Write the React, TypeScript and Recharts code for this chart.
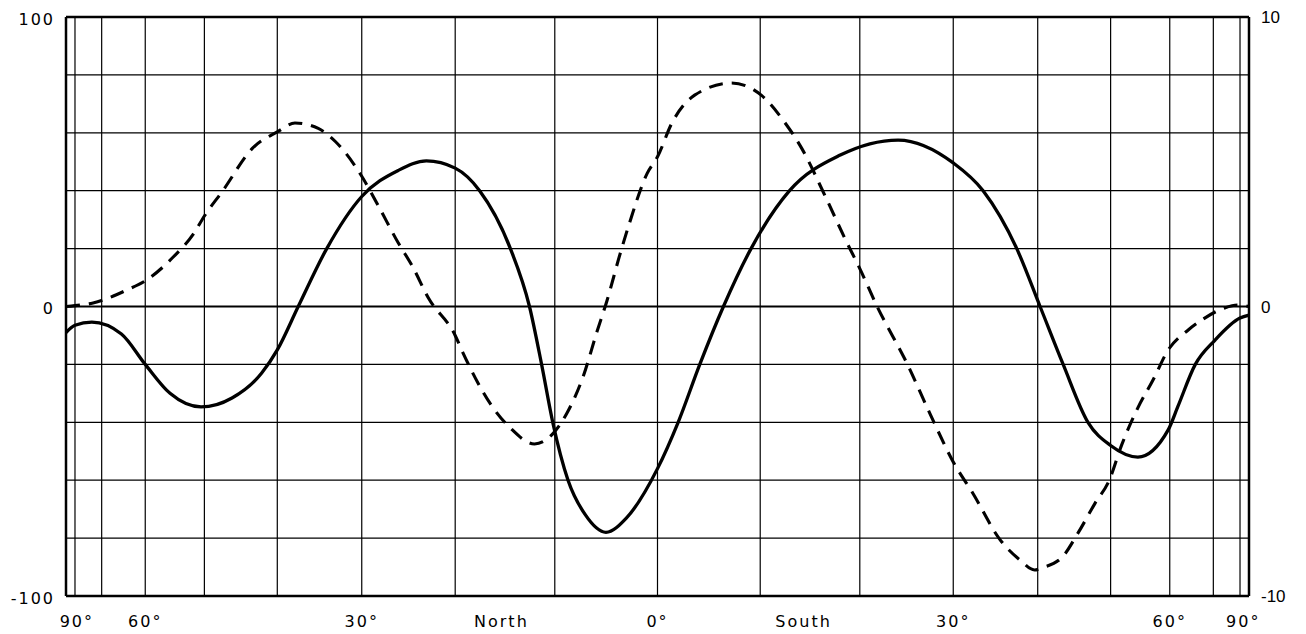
import { LineChart, Line, XAxis, YAxis, CartesianGrid, ReferenceLine } from "recharts";

// latitude in degrees, north negative (left), south positive (right)
const solidLat = [
  -90, -80, -73, -65, -60, -55.5, -50.5, -46, -42, -40, -37.4, -34, -30, -26, -23, -20, -17.5, -14.4,
  -12.5, -11.3, -10.2, -8.7, -7, -5, -3, 0, 2, 4.1, 6.4, 9.1, 12.9, 18, 24, 30, 33.4, 37.4, 40.3, 43.3,
  46.7, 50, 54.3, 59.7, 61.6, 65.4, 70.5, 80, 90,
];
const solidVal = [
  -9, -6.5, -5.4, -9.5, -20, -30, -34.7, -31.6, -23, -15, 0, 20, 38, 47, 50.3, 47.8, 40, 20, 0, -20,
  -40, -60, -72, -78, -73, -56, -40, -20, 0, 20, 40, 52.3, 57.5, 49.6, 40, 20, 0, -20, -40, -48, -52,
  -42.6, -34.6, -20, -11.6, -4, -3,
];

// dashed curve, right-hand scale (-10 .. 10)
const dashedLat = [
  -90, -80, -72.6, -63.8, -59.7, -55, -51.7, -49.9, -47.3, -43.2, -40, -37.8, -35, -33, -30, -28.2, -26,
  -24.5, -22.8, -20, -19.2, -16.2, -14.4, -12, -10.2, -8.8, -7.2, -5.9, -4.9, -3.6, -2.7, -1, 0, 1.4,
  3.6, 7.2, 10.1, 12.4, 14.1, 16.5, 18.5, 20, 21.8, 25, 27.4, 30, 32.2, 35.4, 37.8, 39.6, 40.5, 43.2,
  45.3, 47.7, 49.8, 51.7, 54.3, 56.9, 59.7, 63.8, 66.9, 73.5, 78.9, 90,
];
const dashedVal = [
  0, 0.03, 0.12, 0.57, 0.92, 1.7, 2.5, 3.16, 4.0, 5.47, 6.03, 6.34, 6.15, 5.7, 4.5, 3.5, 2.2, 1.4, 0.3,
  -1.0, -1.6, -3.47, -4.2, -4.75, -4.4, -3.68, -2.4, -0.9, 0.2, 1.85, 2.9, 4.6, 5.17, 6.34, 7.3, 7.72,
  7.3, 6.37, 5.47, 3.79, 2.33, 1.31, 0, -2.0, -3.68, -5.37, -6.44, -8.06, -8.76, -9.1, -9.03, -8.65,
  -7.83, -6.8, -6.0, -4.78, -3.5, -2.54, -1.5, -0.81, -0.47, -0.05, 0.05, 0,
];

const gridLat = [-80, -70, -60, -50, -40, -30, -20, -10, 0, 10, 20, 30, 40, 50, 60, 70, 80];
const labelLat = [-79, -60, -30, -15.3, 0, 14.3, 30, 60, 82];
const labelText = ["90°", "60°", "30°", "North", "0°", "South", "30°", "60°", "90°"];

const leftTicks = [-100, -80, -60, -40, -20, 0, 20, 40, 60, 80, 100];
const leftShown = [-100, 0, 100];
const rightTicks = [-10, 0, 10];

const sinDeg = (d: number) => Math.sin((d * Math.PI) / 180);

const solidData = solidLat.map((lat, i) => ({ s: sinDeg(lat), v: solidVal[i] }));
const dashedData = dashedLat.map((lat, i) => ({ s: sinDeg(lat), w: dashedVal[i] }));
const gridTicks = gridLat.map(sinDeg);
const labelTicks = labelLat.map(sinDeg);

const LETTER = "'DejaVu Sans', sans-serif";

const LatTick = (props: any) => {
  const { x, y, index } = props;
  return (
    <text x={x} y={y + 25} dy="0.36em" textAnchor="middle" fontSize={16} fontFamily={LETTER}
      letterSpacing={2} fill="#000">
      {labelText[index]}
    </text>
  );
};

const LeftTick = (props: any) => {
  const { x, y, payload } = props;
  if (!leftShown.includes(payload.value)) return null;
  return (
    <text x={x} y={y + 2} dy="0.36em" textAnchor="end" fontSize={16} fontFamily={LETTER}
      letterSpacing={2} fill="#000">
      {payload.value}
    </text>
  );
};

const RightTick = (props: any) => {
  const { x, y, payload } = props;
  return (
    <text x={x} y={y} dy="0.36em" textAnchor="start" fontSize={17}
      fontFamily="'Liberation Sans', Arial, sans-serif" fill="#000">
      {payload.value}
    </text>
  );
};

// vertical grid every 10 degrees, placed through the x scale
const gridX = ({ xAxis }: any) => {
  const sc = xAxis && xAxis.scale;
  if (!sc) return [];
  const fn = typeof sc === "function" ? sc : sc.map ? (v: number) => sc.map(v) : null;
  if (!fn) return [];
  return gridTicks.map((t) => fn(t));
};

export default function App() {
  return (
    <div style={{ position: "absolute", left: 0, top: 0, width: 1306, height: 634, background: "#fff" }}>
      <LineChart width={1306} height={634} margin={{ top: 17, right: 0, bottom: 0, left: 8 }}>
        <CartesianGrid
          xAxisId="lbl"
          yAxisId="left"
          stroke="#000"
          strokeWidth={1.2}
          verticalCoordinatesGenerator={gridX}
        />
        <XAxis
          xAxisId="lbl"
          type="number"
          dataKey="s"
          domain={[-1, 1]}
          ticks={labelTicks}
          tick={<LatTick />}
          tickLine={false}
          tickSize={0}
          tickMargin={0}
          interval={0}
          height={38}
          axisLine={{ stroke: "#000", strokeWidth: 2.5 }}
        />
        <YAxis
          yAxisId="left"
          domain={[-100, 100]}
          ticks={leftTicks}
          tick={<LeftTick />}
          tickLine={false}
          tickSize={0}
          tickMargin={11}
          interval={0}
          width={58}
          axisLine={{ stroke: "#000", strokeWidth: 2.5 }}
        />
        <YAxis
          yAxisId="right"
          orientation="right"
          domain={[-10, 10]}
          ticks={rightTicks}
          tick={<RightTick />}
          tickLine={false}
          tickSize={0}
          tickMargin={12}
          interval={0}
          width={57}
          axisLine={{ stroke: "#000", strokeWidth: 2.5 }}
        />
        <ReferenceLine xAxisId="lbl" yAxisId="left" y={100} stroke="#000" strokeWidth={2.5} />
        <ReferenceLine xAxisId="lbl" yAxisId="left" y={0} stroke="#000" strokeWidth={1.8} />
        <Line
          data={solidData}
          xAxisId="lbl"
          yAxisId="left"
          dataKey="v"
          type="monotone"
          stroke="#000"
          strokeWidth={3.3}
          dot={false}
          isAnimationActive={false}
        />
        <Line
          data={dashedData}
          xAxisId="lbl"
          yAxisId="right"
          dataKey="w"
          type="monotone"
          stroke="#000"
          strokeWidth={3.1}
          strokeDasharray="14 9"
          dot={false}
          isAnimationActive={false}
        />
      </LineChart>
    </div>
  );
}
